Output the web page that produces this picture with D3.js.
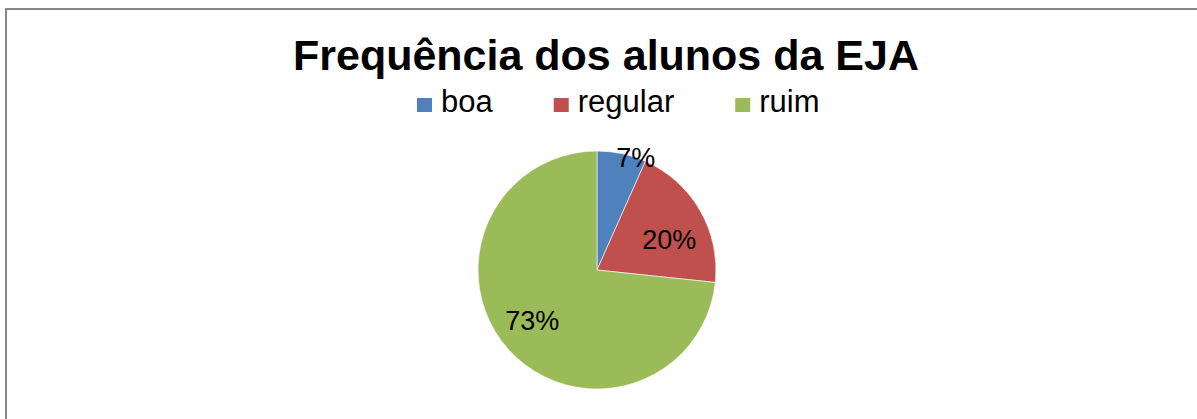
<!DOCTYPE html>
<html>
<head>
<meta charset="utf-8">
<script src="https://cdn.jsdelivr.net/npm/d3@7"></script>
<style>
    html, body { margin: 0; padding: 0; background: #fff; }
    svg { display: block; font-family: Arial, "Liberation Sans", sans-serif; }
</style>
</head>
<body>
<svg id="chart"></svg>
<script>
const categories = ['boa', 'regular', 'ruim'];
const counts = [2, 6, 22];
const colors = ['#4F81BD', '#C0504D', '#9BBB59'];
const title = 'Frequência dos alunos da EJA';

const width = 1197;
const height = 419;

const svg = d3.select('#chart')
    .attr('width', width)
    .attr('height', height);

// chart frame (right and bottom sides run off the picture)
svg.append('rect')
    .attr('x', 6)
    .attr('y', 9)
    .attr('width', width + 20)
    .attr('height', height + 20)
    .attr('fill', '#fff')
    .attr('stroke', '#868686')
    .attr('stroke-width', 2);

svg.append('text')
    .attr('x', 606)
    .attr('y', 70)
    .attr('text-anchor', 'middle')
    .attr('font-size', 43)
    .attr('font-weight', 'bold')
    .attr('fill', '#000')
    .text(title);

// legend
const legend = svg.append('g').attr('transform', 'translate(417,0)');
let lx = 0;
categories.forEach((c, i) => {
    const item = legend.append('g').attr('transform', `translate(${lx},0)`);
    item.append('rect')
        .attr('x', 0)
        .attr('y', 98)
        .attr('width', 15)
        .attr('height', 14)
        .attr('fill', colors[i]);
    const t = item.append('text')
        .attr('x', 24)
        .attr('y', 112)
        .attr('font-size', 31)
        .attr('fill', '#000')
        .text(c);
    lx += 24 + t.node().getComputedTextLength() + 61;
});

// pie
const cx = 597, cy = 270, radius = 119;
const total = d3.sum(counts);
const pie = d3.pie().sort(null).value(d => d);
const arcs = pie(counts);
const arc = d3.arc().innerRadius(0).outerRadius(radius);

const g = svg.append('g').attr('transform', `translate(${cx},${cy})`);

g.selectAll('path')
    .data(arcs)
    .enter()
    .append('path')
    .attr('d', arc)
    .attr('fill', (d, i) => colors[i])
    .attr('stroke', '#fff')
    .attr('stroke-width', 0.6);

// label placement, tuned per slice like Excel's best fit
const labelTweaks = [
    { r: 1.0, da: 7 },
    { r: 0.66, da: 7 },
    { r: 0.69, da: 4 }
];

g.selectAll('text.lbl')
    .data(arcs)
    .enter()
    .append('text')
    .attr('class', 'lbl')
    .attr('transform', (d, i) => {
        const a = (d.startAngle + d.endAngle) / 2 + labelTweaks[i].da * Math.PI / 180;
        const r = radius * labelTweaks[i].r;
        return `translate(${r * Math.sin(a)},${-r * Math.cos(a)})`;
    })
    .attr('text-anchor', 'middle')
    .attr('dy', '0.35em')
    .attr('font-size', 27)
    .attr('fill', '#000')
    .text(d => Math.round(d.value / total * 100) + '%');
</script>
</body>
</html>
